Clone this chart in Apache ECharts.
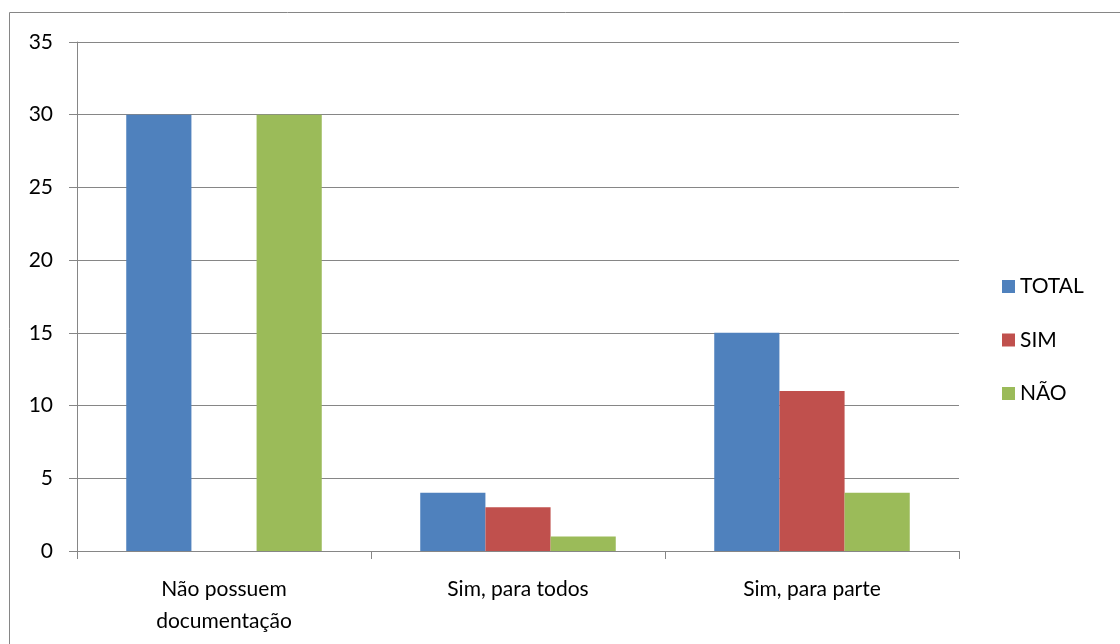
<!DOCTYPE html>
<html>
<head>
<meta charset="utf-8">
<script src="https://cdn.jsdelivr.net/npm/echarts@6/dist/echarts.min.js"></script>
<style>
  html, body { margin: 0; padding: 0; background: #fff; }
  #chart { width: 1120px; height: 644px; }
</style>
</head>
<body>
<div id="chart"></div>
<script>
  const categories = ['Não possuem\ndocumentação', 'Sim, para todos', 'Sim, para parte']
  const seriesNames = ['TOTAL', 'SIM', 'NÃO']
  const totalValues = [30, 4, 15]
  const simValues = [0, 3, 11]
  const naoValues = [30, 1, 4]
  const yTicks = [0, 5, 10, 15, 20, 25, 30, 35]
  const colors = ['#4F81BD', '#C0504D', '#9BBB59']

  const font = 'Lato, "Open Sans", sans-serif'
  const gray = '#868686'

  let myChart = echarts.init(document.getElementById('chart'))
  let values = [totalValues, simValues, naoValues]
  let series = []
  seriesNames.forEach((name, index) => {
    series.push({
      name: name,
      type: 'bar',
      data: values[index],
      barGap: '0%',
      barCategoryGap: '33.5%',
      itemStyle: { color: colors[index] }
    })
  })

  let option = {
    animation: false,
    textStyle: { fontFamily: font },
    graphic: [{
      type: 'rect',
      shape: { x: 9.5, y: 12.5, width: 1200, height: 700 },
      style: { fill: 'none', stroke: gray, lineWidth: 1 },
      silent: true
    }],
    grid: { left: 77, top: 42, right: 161, bottom: 93, containLabel: false },
    legend: {
      orient: 'vertical',
      left: 997,
      top: 271,
      itemWidth: 13,
      itemHeight: 13,
      itemGap: 32.5,
      icon: 'rect',
      data: seriesNames,
      textStyle: { fontSize: 21, color: '#000', fontFamily: font }
    },
    xAxis: {
      type: 'category',
      data: categories,
      axisLine: { lineStyle: { color: gray, width: 1 } },
      axisTick: { show: true, length: 8, alignWithLabel: false, lineStyle: { color: gray } },
      axisLabel: { color: '#000', fontSize: 21, lineHeight: 32, margin: 22, fontFamily: font }
    },
    yAxis: {
      type: 'value',
      min: yTicks[0],
      max: yTicks[yTicks.length - 1],
      interval: 5,
      axisLine: { show: true, lineStyle: { color: gray, width: 1 } },
      axisTick: { show: true, length: 8, lineStyle: { color: gray } },
      splitLine: { lineStyle: { color: gray, width: 1 } },
      axisLabel: { color: '#000', fontSize: 21, margin: 24, fontFamily: font }
    },
    series: series
  }
  myChart.setOption(option)
</script>
</body>
</html>
